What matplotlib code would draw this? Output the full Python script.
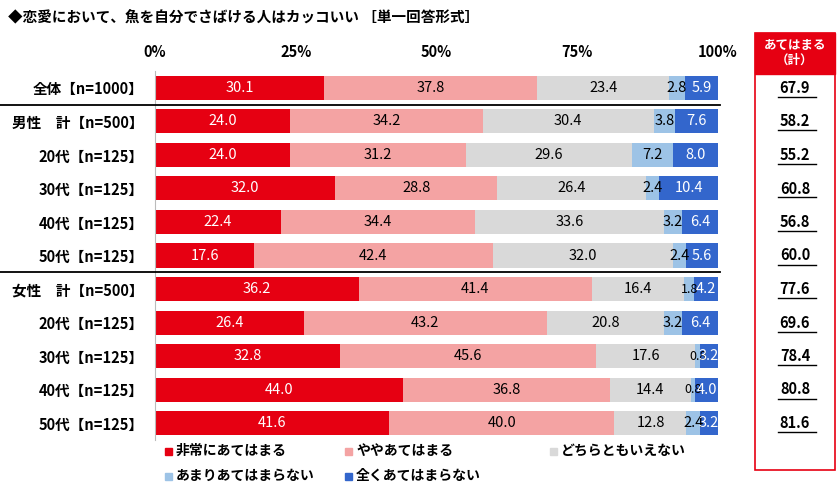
import matplotlib
matplotlib.use("Agg")
import matplotlib.pyplot as plt
from matplotlib.patches import Rectangle

plt.rcParams["font.family"] = "Noto Sans CJK JP"
plt.rcParams["font.weight"] = "bold"

categories = ["全体【n=1000】", "男性　計【n=500】", "20代【n=125】", "30代【n=125】", "40代【n=125】", "50代【n=125】",
              "女性　計【n=500】", "20代【n=125】", "30代【n=125】", "40代【n=125】", "50代【n=125】"]
series_names = ["非常にあてはまる", "ややあてはまる", "どちらともいえない", "あまりあてはまらない", "全くあてはまらない"]
s1 = [30.1, 24.0, 24.0, 32.0, 22.4, 17.6, 36.2, 26.4, 32.8, 44.0, 41.6]
s2 = [37.8, 34.2, 31.2, 28.8, 34.4, 42.4, 41.4, 43.2, 45.6, 36.8, 40.0]
s3 = [23.4, 30.4, 29.6, 26.4, 33.6, 32.0, 16.4, 20.8, 17.6, 14.4, 12.8]
s4 = [2.8, 3.8, 7.2, 2.4, 3.2, 2.4, 1.8, 3.2, 0.8, 0.8, 2.4]
s5 = [5.9, 7.6, 8.0, 10.4, 6.4, 5.6, 4.2, 6.4, 3.2, 4.0, 3.2]
totals = ["67.9", "58.2", "55.2", "60.8", "56.8", "60.0", "77.6", "69.6", "78.4", "80.8", "81.6"]
ticks = [0, 25, 50, 75, 100]
tick_labels = ["0%", "25%", "50%", "75%", "100%"]

colors = ["#E60012", "#F4A3A3", "#D9D9D9", "#9DC3E6", "#3366CC"]
txtcol = ["white", "black", "black", "black", "white"]

fig = plt.figure(figsize=(8.4, 4.94), dpi=100)
ax = fig.add_axes([155/840, 1-440/494, 563/840, 369/494])
n = len(categories)
ys = list(range(n))
left = [0.0]*n
for k, s in enumerate([s1, s2, s3, s4, s5]):
    ax.barh(ys, s, left=left, height=0.72, color=colors[k], label=series_names[k])
    for i in range(n):
        cx = left[i] + s[i]/2
        ax.text(cx, ys[i], f"{s[i]:.1f}", ha="center", va="center",
                fontsize=10.5 if s[i] >= 2 else 9,
                color=txtcol[k], fontweight="normal")
        left[i] += s[i]
ax.set_xlim(0, 100)
ax.set_ylim(n-0.5, -0.5)
ax.set_yticks(ys)
ax.set_yticklabels(categories, fontsize=10.5)
ax.tick_params(axis="y", length=0, pad=8)
ax.set_xticks(ticks)
ax.set_xticklabels(tick_labels, fontsize=10.5)
ax.xaxis.tick_top()
ax.tick_params(axis="x", length=0, pad=8)
for sp in ["top", "right", "bottom"]:
    ax.spines[sp].set_visible(False)
ax.spines["left"].set_color("#bbbbbb")

for yline in [0.5, 5.5]:
    fig.add_artist(plt.Line2D([0.0, 720/840], [1-(88+33.5*yline)/494]*2, color="black", lw=1.3,
                              transform=fig.transFigure))

fig.text(8/840, 1-17/494, "◆恋愛において、魚を自分でさばける人はカッコいい ［単一回答形式］", fontsize=10.5, va="center")

# right column
bx0, bx1 = 755/840, 835/840
fig.add_artist(Rectangle((bx0, 1-470/494), bx1-bx0, (470-33)/494, transform=fig.transFigure,
                         fill=False, edgecolor="#E60012", lw=1.2))
fig.add_artist(Rectangle((bx0, 1-74/494), bx1-bx0, (74-33)/494, transform=fig.transFigure,
                         color="#E60012"))
fig.text((bx0+bx1)/2, 1-53/494, "あてはまる\n（計）", color="white", ha="center", va="center", fontsize=9, linespacing=1.2)
for i, t in enumerate(totals):
    yy = 1-(88+33.5*i)/494
    fig.text((bx0+bx1)/2, yy, t, ha="center", va="center", fontsize=10.5)
    fig.add_artist(plt.Line2D([778/840, 816/840], [yy-9/494]*2, color="black", lw=1, transform=fig.transFigure))

# legend
leg_pos = [(165, 451), (345, 451), (550, 451), (165, 476), (345, 476)]
for k, (lx, ly) in enumerate(leg_pos):
    fig.add_artist(Rectangle((lx/840, 1-(ly+4)/494), 7/840, 7/494, transform=fig.transFigure, color=colors[k]))
    fig.text((lx+11)/840, 1-ly/494, series_names[k], va="center", fontsize=10)

fig.savefig("out.png", dpi=100)
